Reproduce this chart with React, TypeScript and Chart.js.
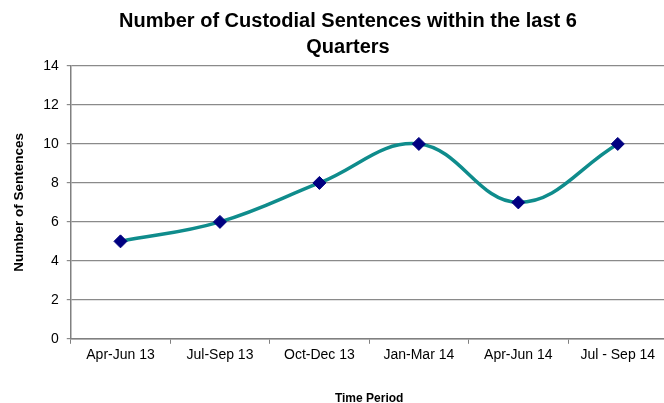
import React, { useEffect, useRef } from "react";
import { Chart, registerables } from "chart.js";

Chart.register(...registerables);

const categories = ["Apr-Jun 13", "Jul-Sep 13", "Oct-Dec 13", "Jan-Mar 14", "Apr-Jun 14", "Jul - Sep 14"];
const sentences = [5, 6, 8, 10, 7, 10];
const titleLines = ["Number of Custodial Sentences within the last 6", "Quarters"];
const yTitle = "Number of Sentences";
const xTitle = "Time Period";

const CANVAS_W = 675;
const CANVAS_H = 403;

export default function App() {
  const ref = useRef<HTMLCanvasElement | null>(null);
  useEffect(() => {
    document.body.style.margin = "0";
    const ctx = ref.current!;
    const chart = new Chart(ctx, {
      type: "line",
      data: {
        labels: categories,
        datasets: [
          {
            data: sentences,
            borderColor: "#0f8c8c",
            borderWidth: 3.5,
            tension: 0.4,
            pointStyle: "rectRot",
            pointRadius: 6.5,
            pointBackgroundColor: "#000080",
            pointBorderColor: "#000080",
            pointBorderWidth: 1,
          },
        ],
      },
      options: {
        animation: false,
        responsive: false,
        maintainAspectRatio: false,
        layout: { padding: { left: 11, right: 0, top: 66, bottom: -3 } },
        plugins: {
          legend: { display: false },
          tooltip: { enabled: false },
          title: { display: false },
        },
        scales: {
          x: {
            offset: true,
            afterFit: (s: any) => {
              s.paddingLeft = 0;
              s.paddingRight = 0;
            },
            grid: { offset: true, drawOnChartArea: false, drawTicks: true, tickLength: 5, color: "#808080" },
            border: { color: "#808080", width: 1.5 },
            ticks: { color: "#000", font: { family: "Liberation Sans", size: 14 }, padding: 3, maxRotation: 0 },
            title: {
              display: true,
              text: xTitle,
              color: "#000",
              font: { family: "Liberation Sans", size: 12, weight: "bold" },
              padding: { top: 25, bottom: 0 },
            },
          },
          y: {
            min: 0,
            max: 14,
            ticks: { stepSize: 2, color: "#000", font: { family: "Liberation Sans", size: 14 }, padding: 8 },
            grid: { color: "#8a8a8a", lineWidth: 1.2, tickLength: 4 },
            border: { color: "#808080", width: 1.5 },
            title: {
              display: true,
              text: yTitle,
              color: "#000",
              font: { family: "Liberation Sans", size: 13.5, weight: "bold" },
              padding: { top: 0, bottom: 8 },
            },
          },
        },
      },
    });
    return () => chart.destroy();
  }, []);
  return (
    <div style={{ position: "relative", width: 664, height: 403, overflow: "hidden" }}>
      <canvas
        ref={ref}
        width={CANVAS_W}
        height={CANVAS_H}
        style={{ display: "block", width: CANVAS_W, height: CANVAS_H }}
      />
      <div
        style={{
          position: "absolute",
          left: 0,
          top: 7,
          width: 696,
          textAlign: "center",
          fontFamily: "'Liberation Sans', Arial, sans-serif",
          fontWeight: "bold",
          fontSize: 20,
          lineHeight: "26px",
          color: "#000",
        }}
      >
        {titleLines.map((t, i) => (
          <div key={i}>{t}</div>
        ))}
      </div>
    </div>
  );
}
